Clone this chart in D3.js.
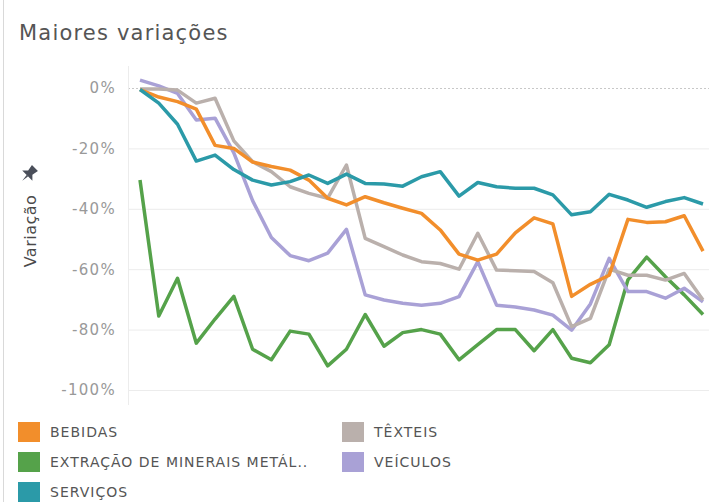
<!DOCTYPE html>
<html>
<head>
<meta charset="utf-8">
<script src="https://cdn.jsdelivr.net/npm/d3@7"></script>
<style>
  body { margin: 0; background: #fff; font-family: "DejaVu Sans", sans-serif; }
  #chart { width: 709px; height: 502px; }
</style>
</head>
<body>
<div id="chart"></div>
<script>
// values are % change, one per period (31 periods)
var bebidas = [-0.5, -3, -4.5, -7, -19, -20, -24.5, -26, -27.2, -30.5, -36.5, -38.7, -36, -38, -39.8, -41.5, -47, -55, -57, -55, -48, -43, -45, -69, -65, -62, -43.5, -44.5, -44.3, -42.3, -54];
var extracao = [-30.5, -75.5, -63, -84.5, -76.5, -69, -86.5, -90, -80.5, -81.5, -92, -86.5, -75, -85.5, -81, -80, -81.5, -90, -85, -80, -80, -87, -80, -89.5, -91, -85, -63.5, -56, -62.5, -68.5, -75];
var servicos = [-0.5, -5, -12, -24.2, -22.2, -27, -30.5, -32.1, -31, -28.8, -31.6, -28.5, -31.6, -31.8, -32.5, -29.4, -27.7, -35.8, -31.3, -32.7, -33.2, -33.2, -35.4, -42, -41, -35.2, -37.1, -39.5, -37.6, -36.3, -38.4];
var texteis = [-0.3, -0.3, -0.7, -5, -3.4, -17.5, -24.4, -27.7, -32.7, -34.9, -36.5, -25.5, -49.8, -52.5, -55.3, -57.5, -58.1, -60, -48.1, -60.3, -60.5, -60.8, -64.5, -79, -76.3, -60, -62, -62, -63.6, -61.4, -70.2];
var veiculos = [2.6, 0.7, -1.8, -10.6, -10, -21.5, -37.3, -49.5, -55.5, -57.2, -54.7, -46.8, -68.5, -70.2, -71.3, -71.9, -71.3, -69.1, -57.5, -71.9, -72.5, -73.5, -75.2, -80.2, -71.5, -56.4, -67.4, -67.4, -69.6, -66.3, -70.8];

var seriesNames = ["BEBIDAS", "EXTRAÇÃO DE MINERAIS METÁL..", "SERVIÇOS", "TÊXTEIS", "VEÍCULOS"];
var seriesValues = [bebidas, extracao, servicos, texteis, veiculos];
var seriesColors = ["#F28E2B", "#55A24A", "#2B9AA8", "#BAB0AC", "#A9A1D6"];
var yTicks = [0, -20, -40, -60, -80, -100];

var width = 709, height = 502;
var svg = d3.select("#chart").append("svg")
    .attr("width", width)
    .attr("height", height);

// outer frame on the left
svg.append("line")
    .attr("x1", 3.5).attr("x2", 3.5)
    .attr("y1", 0).attr("y2", height)
    .attr("stroke", "#d9d9d9");

svg.append("text")
    .attr("x", 19).attr("y", 40)
    .attr("font-size", 21)
    .attr("letter-spacing", 1.2)
    .attr("fill", "#555")
    .text("Maiores variações");

var x = d3.scaleLinear().domain([0, bebidas.length - 1]).range([140, 703]);
var y = d3.scaleLinear().domain([-100, 0]).range([390, 88]);

// gridlines
svg.append("g").selectAll("line")
    .data(yTicks)
    .enter().append("line")
    .attr("x1", 128).attr("x2", width)
    .attr("y1", function (d) { return y(d) + 0.5; })
    .attr("y2", function (d) { return y(d) + 0.5; })
    .attr("stroke", function (d) { return d === 0 ? "#c8c8c8" : "#ececec"; })
    .attr("stroke-dasharray", function (d) { return d === 0 ? "2,2" : null; });

svg.append("line")
    .attr("x1", 128.5).attr("x2", 128.5)
    .attr("y1", 66).attr("y2", 405)
    .attr("stroke", "#ececec");

// y axis labels
var yAxis = svg.append("g")
    .attr("transform", "translate(119,0)")
    .call(d3.axisLeft(y).tickValues(yTicks).tickSize(0).tickFormat(function (d) { return d + "%"; }));
yAxis.select(".domain").remove();
yAxis.selectAll("text")
    .attr("font-family", "DejaVu Sans, sans-serif")
    .attr("font-size", 15)
    .attr("letter-spacing", 1.3)
    .attr("fill", "#999");

// axis title + pin
svg.append("text")
    .attr("transform", "translate(36,231) rotate(-90)")
    .attr("text-anchor", "middle")
    .attr("font-size", 16)
    .attr("letter-spacing", 0.5)
    .attr("fill", "#4a4a4a")
    .text("Variação");
svg.append("path")
    .attr("transform", "translate(29,174) rotate(45) scale(1.2)")
    .attr("d", "M-3.5,-7 L3.5,-7 L2.5,-1.5 L6,2 L-6,2 L-2.5,-1.5 Z M-0.8,2 L0.8,2 L0,8 Z")
    .attr("fill", "#4a4f5a");

// lines
var line = d3.line()
    .x(function (d, i) { return x(i); })
    .y(function (d) { return y(d); });

var order = [1, 4, 3, 0, 2];
svg.append("g").selectAll("path")
    .data(order)
    .enter().append("path")
    .attr("fill", "none")
    .attr("stroke", function (k) { return seriesColors[k]; })
    .attr("stroke-width", 3.5)
    .attr("stroke-linejoin", "round")
    .attr("d", function (k) { return line(seriesValues[k]); });

// legend
var legendPos = [[18, 422], [18, 452], [18, 482], [342, 422], [342, 452]];
var legend = svg.append("g").selectAll("g")
    .data(seriesNames)
    .enter().append("g")
    .attr("transform", function (d, i) { return "translate(" + legendPos[i][0] + "," + legendPos[i][1] + ")"; });
legend.append("rect")
    .attr("width", 22).attr("height", 20)
    .attr("fill", function (d, i) { return seriesColors[i]; });
legend.append("text")
    .attr("x", 32).attr("y", 15)
    .attr("font-size", 14)
    .attr("letter-spacing", 1)
    .attr("fill", "#555")
    .text(function (d) { return d; });
</script>
</body>
</html>
